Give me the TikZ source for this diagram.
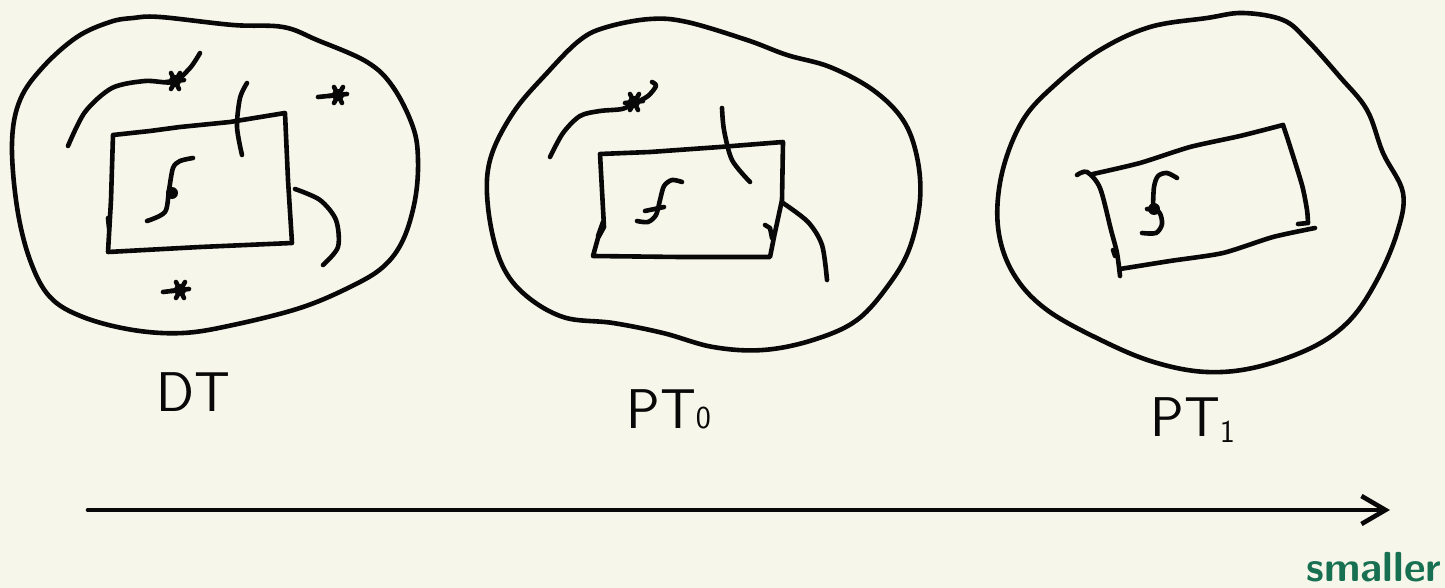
\documentclass[tikz,border=0pt]{standalone}
\usetikzlibrary{arrows.meta}
\definecolor{paper}{RGB}{247,246,234}
\definecolor{ink}{RGB}{8,8,8}
\definecolor{pengreen}{RGB}{24,112,82}
\newcommand\mysplat[2]{%
  \fill[ink] (#1,#2) circle (6);
  \draw[sketch] (#1-9,#2+1) -- (#1+9,#2-1);
  \draw[sketch] (#1-4,#2-8) -- (#1+4,#2+8);
  \draw[sketch] (#1+5,#2-8) -- (#1-4,#2+8);}
\newcommand\mysub[1]{{\sffamily\fontsize{16}{16}\selectfont #1}}
\begin{document}
\begin{tikzpicture}[x=0.5pt,y=-0.5pt,
  sketch/.style={line width=2.3pt, line cap=round, line join=round, draw=ink},
  lbl/.style={font=\sffamily\fontsize{28}{30}\selectfont, text=ink, inner sep=0pt}]
\fill[paper] (0,0) rectangle (1445,588);
\useasboundingbox (0,0) rectangle (1445,588);

% ---------- DT ----------
\draw[sketch] plot[smooth cycle, tension=0.6] coordinates {(133,18) (160,17) (233,25) (283,27) (317,40) (367,62) (393,87) (413,127) (418,160) (415,200) (403,240) (383,267) (350,287) (300,308) (233,325) (183,333) (133,330) (83,317) (50,297) (30,260) (17,207) (12,143) (20,100) (43,67) (77,37) (110,22)};
\draw[sketch] (113,135) -- (150,131) -- (180,127) -- (230,122) -- (285,113) -- (288,180) -- (292,243) -- (200,247) -- (108,252) -- (111,200) -- (113,135);
\draw[sketch] plot[smooth] coordinates {(68,146) (85,112) (112,88) (145,81) (173,82) (190,68) (200,53)};
\draw[sketch] plot[smooth] coordinates {(247,83) (240,98) (237,127) (242,155)};
\draw[sketch] plot[smooth] coordinates {(295,189) (320,200) (336,220) (338,247) (323,265)};
\draw[sketch] plot[smooth] coordinates {(193,158) (180,161) (173,168) (169,190) (165,212) (147,221)};
\fill[ink] (172,193) circle (6);
\draw[sketch] (108,218) -- (109,228);
\mysplat{175}{81}
\mysplat{338}{95}
\draw[sketch] (318,97) -- (338,95);
\mysplat{180}{290}
\draw[sketch] (163,292) -- (180,290);
\node[lbl] (dt) at (193,392) {DT};

% ---------- PT0 ----------
\draw[sketch] plot[smooth cycle, tension=0.6] coordinates {(607,27) (650,19) (687,22) (747,40) (787,55) (830,67) (873,90) (903,120) (917,157) (920,200) (910,247) (890,283) (857,320) (813,340) (763,350) (713,347) (663,333) (613,323) (563,317) (523,293) (500,260) (488,207) (490,160) (513,113) (547,73) (580,40)};
\draw[sketch] (600,154) -- (650,152) -- (720,147) -- (783,142) -- (782,200) -- (774,237) -- (770,257) -- (680,257) -- (593,256) -- (598,238) -- (604,227) -- (600,154);
\draw[sketch] plot[smooth] coordinates {(550,157) (563,133) (580,116) (600,111) (622,109) (635,103) (648,96) (656,86) (652,82)};
\mysplat{634}{102}
\draw[sketch] plot[smooth] coordinates {(722,108) (724,130) (732,160) (750,182)};
\draw[sketch] plot[smooth] coordinates {(783,203) (808,222) (822,245) (827,280)};
\draw[sketch] plot[smooth] coordinates {(682,182) (672,180) (664,186) (660,200) (656,215) (648,222) (637,221)};
\draw[sketch] (645,211) -- (664,207);
\draw[sketch] (603,222) -- (598,236);
\draw[sketch] (765,225) -- (770,228) -- (772,238);
\node[lbl, anchor=base west] (pt0) at (626,428) {PT\mysub{0}};

% ---------- PT1 ----------
\draw[sketch] plot[smooth cycle, tension=0.6] coordinates {(1207,18) (1243,13) (1283,20) (1307,40) (1340,77) (1367,110) (1383,153) (1403,193) (1397,233) (1377,280) (1350,320) (1313,347) (1257,367) (1207,372) (1157,363) (1107,343) (1047,310) (1013,273) (998,227) (1002,173) (1023,120) (1057,83) (1100,50) (1150,27)};
\draw[sketch] plot[smooth, tension=0.4] coordinates {(1093,174) (1140,163) (1190,147) (1240,136) (1283,125)};
\draw[sketch] plot[smooth, tension=0.4] coordinates {(1283,125) (1288,140) (1302,185) (1307,210) (1308,223)} -- (1298,224);
\draw[sketch] plot[smooth, tension=0.4] coordinates {(1315,228) (1273,237) (1223,253) (1170,261) (1120,269)};
\draw[sketch] plot[smooth, tension=0.5] coordinates {(1077,175) (1087,172) (1100,188) (1111,230) (1117,253) (1120,276)};
\draw[sketch] (1113,250) -- (1115,256);
\draw[sketch] plot[smooth] coordinates {(1177,178) (1167,173) (1158,176) (1154,187) (1153,207)};
\draw[sketch] plot[smooth] coordinates {(1147,209) (1159,212) (1162,224) (1156,233) (1142,233)};
\fill[ink] (1154,209) circle (6);
\node[lbl, anchor=base west] (pt1) at (1150,436) {PT\raisebox{-3pt}{\mysub{1}}};

% ---------- axis ----------
\coordinate (axstart) at (88,510);
\coordinate (axend) at (1390,510);
\draw[sketch, -{Straight Barb[length=12pt,width=14pt,line width=2.3pt]}] (axstart) -- (axend);
\node[font=\sffamily\bfseries\fontsize{21}{24}\selectfont, text=pengreen, inner sep=0pt] (smaller) at (1374,567) {smaller};
\end{tikzpicture}
\end{document}
